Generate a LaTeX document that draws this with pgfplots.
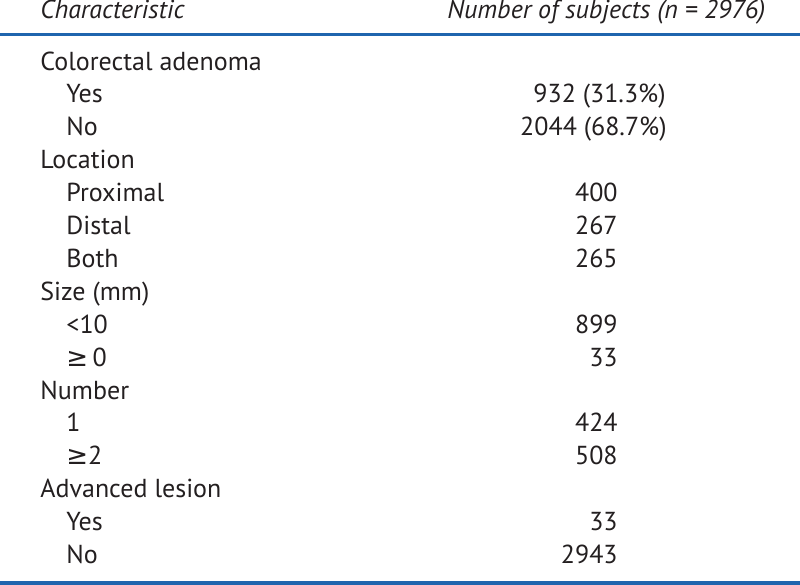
\documentclass[border=0pt]{standalone}
\usepackage{fontspec}
\setmainfont{PT Sans}
\newfontfamily\symfont{DejaVu Sans}
\usepackage{pgfplots}
\pgfplotsset{compat=1.18}
\definecolor{rulecol}{HTML}{1F65AE}
\definecolor{txt}{HTML}{231F20}
\begin{document}
\fontsize{13}{15}\selectfont
\begin{tikzpicture}
\begin{axis}[
  scale only axis, width=400pt, height=292.5pt,
  xmin=0, xmax=800, ymin=0, ymax=585, y dir=reverse,
  hide axis, clip=false,
  every node near coord/.append style={inner sep=0pt, text=txt, font=\fontsize{13}{15}\selectfont},
]
% rules
\addplot[rulecol, line width=1.5pt, mark=none] coordinates {(0,34) (800,34)};
\addplot[rulecol, line width=2pt, mark=none] coordinates {(0,583) (800,583)};
% header
\addplot[draw=none, mark=none, nodes near coords, point meta=explicit symbolic,
  every node near coord/.append style={anchor=base west, font=\fontsize{13}{15}\selectfont\itshape}]
  coordinates {(40,18) [Characteristic] (447,18) [Number of subjects (n = 2976)]};
% category labels
\addplot[draw=none, mark=none, nodes near coords, point meta=explicit symbolic,
  every node near coord/.append style={anchor=base west}]
  coordinates {
  (40,70) [Colorectal adenoma]
  (66,102.9) [Yes]
  (66,135.8) [No]
  (40,168.7) [Location]
  (66,201.6) [Proximal]
  (66,234.5) [Distal]
  (66,267.4) [Both]
  (40,300.3) [Size (mm)]
  (66,333.2) [<10]
  (66,366.1) [{\symfont ≥}\,0]
  (40,399) [Number]
  (66,431.9) [1]
  (66,464.8) [{\symfont ≥}2]
  (40,497.7) [Advanced lesion]
  (66,530.6) [Yes]
  (66,563.5) [No]
  };
% numbers
\addplot[draw=none, mark=none, nodes near coords, point meta=explicit symbolic,
  every node near coord/.append style={anchor=base east}]
  coordinates {
  (666,102.9) [932 (31.3\%)]
  (667,135.8) [2044 (68.7\%)]
  (618,201.6) [400]
  (618,234.5) [267]
  (618,267.4) [265]
  (618,333.2) [899]
  (618,366.1) [33]
  (618,431.9) [424]
  (618,464.8) [508]
  (618,530.6) [33]
  (618,563.5) [2943]
  };
\end{axis}
\pgfresetboundingbox
\path (current axis.south west) rectangle (current axis.north east);
\end{tikzpicture}
\end{document}
